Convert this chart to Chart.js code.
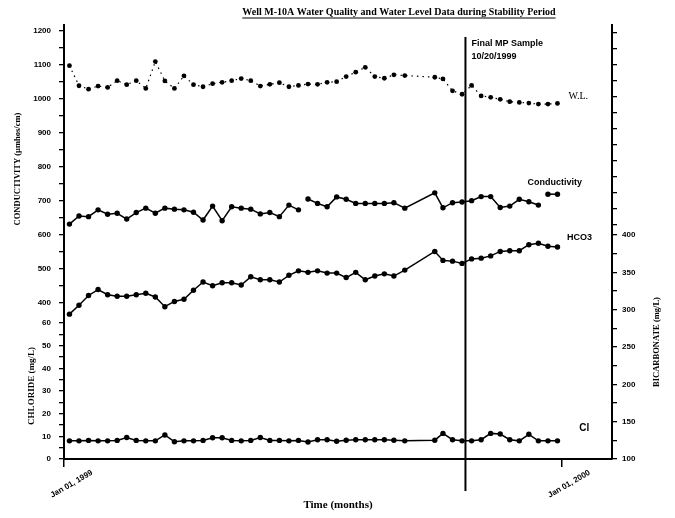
<!DOCTYPE html>
<html>
<head>
<meta charset="utf-8">
<script src="https://cdn.jsdelivr.net/npm/chart.js@4.4.1/dist/chart.umd.min.js"></script>
<style>
html,body{margin:0;padding:0;background:#fff;}
#wrap{width:675px;height:518px;}
</style>
</head>
<body>
<div id="wrap"><canvas id="c" width="675" height="518"></canvas></div>
<script>
// ---------------- data (days since Jan 01, 1999) ----------------
const sampleDays = [4,11,18,25,32,39,46,53,60,67,74,81,88,95,102,109,116,123,130,137,144,151,158,165,172,179,186,193,200,207,214,221,228,235,242,250,272,278,285,292,299,306,313,320,327,334,341,348,355,362];
const conductivity = [632,656,654,674,661,664,647,666,679,664,679,676,674,667,644,685,642,683,679,676,662,666,654,688,674,706,693,683,712,705,693,693,693,693,695,679,724,680,695,697,701,713,713,681,685,705,698,688,720,720];
const waterLevel = [1098,1039,1029,1038,1034,1054,1042,1054,1031,1110,1053,1031,1068,1042,1036,1045,1049,1054,1060,1054,1038,1043,1048,1036,1040,1044,1043,1049,1051,1066,1079,1093,1066,1061,1071,1069,1064,1059,1024,1014,1040,1009,1005,999,992,990,988,985,985,987];
const bicarbonate = [294,306,319,327,320,318,318,320,322,317,304,311,314,326,337,332,336,336,333,344,340,340,337,346,352,350,352,349,349,343,350,340,345,348,345,353,378,366,365,362,368,369,372,378,379,379,387,389,385,384];
const chloride = [8.0,8.0,8.2,8.0,8.0,8.2,9.5,8.2,8.0,8.0,10.6,7.6,8.0,8.0,8.2,9.4,9.4,8.2,8.0,8.2,9.5,8.2,8.2,8.0,8.2,7.5,8.5,8.5,7.8,8.3,8.5,8.5,8.5,8.5,8.3,8.0,8.3,11.3,8.5,8.0,8.0,8.5,11.3,11.0,8.5,8.0,10.9,8.0,8.0,8.0];
const conductivityBreaks = [24, 47];          // segments not joined in the original
const xTickDays = [0, 365];
const xTickLabels = ['Jan 01, 1999', 'Jan 01, 2000'];
const finalSampleDay = 294.5;
const finalSampleText = ['Final MP Sample', '10/20/1999'];
const chartTitle = 'Well M-10A Water Quality and Water Level Data during Stability Period';
const bicarbonateTitle = 'BICARBONATE (mg/L)';

// ---------------- styles ----------------
const sans = '"Liberation Sans", Arial, sans-serif';
const serif = '"Liberation Serif", "Times New Roman", serif';
const tickFont = {family: sans, size: 8, weight: 'bold'};
const toXY = arr => sampleDays.map((d, i) => ({x: d, y: arr[i]}));

const seriesLabels = [
  {text: 'W.L.', day: 370, value: 1009, axis: 'yC', font: '10px ' + serif},
  {text: 'Conductivity', day: 340, value: 753, axis: 'yC', font: 'bold 9px ' + sans},
  {text: 'HCO3', day: 369, value: 397, axis: 'yH', font: 'bold 9px ' + sans},
  {text: 'Cl', day: 378, value: 13.7, axis: 'yCl', font: 'bold 10px ' + sans}
];

const annotate = {
  id: 'annotate',
  afterDatasetsDraw(chart) {
    const {ctx, chartArea, scales} = chart;
    const px = scales.x.getPixelForValue(finalSampleDay);
    ctx.save();
    ctx.strokeStyle = '#000';
    ctx.lineWidth = 2;
    ctx.beginPath();
    ctx.moveTo(px, chartArea.top + 12);
    ctx.lineTo(px, chartArea.bottom + 32);
    ctx.stroke();
    ctx.fillStyle = '#000';
    ctx.textBaseline = 'middle';
    ctx.textAlign = 'left';
    ctx.font = 'bold 9px ' + sans;
    ctx.fillText(finalSampleText[0], px + 6, chartArea.top + 19);
    ctx.fillText(finalSampleText[1], px + 6, chartArea.top + 32);
    seriesLabels.forEach(l => {
      ctx.font = l.font;
      ctx.fillText(l.text, scales.x.getPixelForValue(l.day), scales[l.axis].getPixelForValue(l.value));
    });
    // right axis title, reading bottom-to-top as in the original
    const yH = scales.yH;
    ctx.save();
    ctx.translate(yH.right - 18, (yH.top + yH.bottom) / 2);
    ctx.rotate(-Math.PI / 2);
    ctx.textAlign = 'center';
    ctx.font = 'bold 8.5px ' + serif;
    ctx.fillText(bicarbonateTitle, 0, 0);
    ctx.restore();
    // title with underline
    ctx.font = 'bold 10px ' + serif;
    ctx.textAlign = 'center';
    const cx = chart.width * 0.591, cy = 12;
    ctx.fillText(chartTitle, cx, cy);
    const w = ctx.measureText(chartTitle).width;
    ctx.lineWidth = 1.2;
    ctx.beginPath();
    ctx.moveTo(cx - w / 2, cy + 6);
    ctx.lineTo(cx + w / 2, cy + 6);
    ctx.stroke();
    ctx.restore();
  }
};

const axisGrid = {drawOnChartArea: false, drawTicks: true, tickLength: 5, color: '#000', lineWidth: 1.3};
const axisBorder = {display: true, color: '#000', width: 2};

new Chart(document.getElementById('c'), {
  type: 'line',
  data: {
    datasets: [
      {label: 'W.L.', data: toXY(waterLevel), yAxisID: 'yC', borderColor: '#000', backgroundColor: '#000',
       borderWidth: 1.2, borderDash: [1.5, 4], pointRadius: 2.4, pointBorderWidth: 0, tension: 0},
      {label: 'Conductivity', data: toXY(conductivity), yAxisID: 'yC', borderColor: '#000', backgroundColor: '#000',
       borderWidth: 1.5, pointRadius: 2.7, pointBorderWidth: 0, tension: 0,
       segment: {borderColor: c => conductivityBreaks.includes(c.p0DataIndex) ? 'rgba(0,0,0,0)' : '#000'}},
      {label: 'HCO3', data: toXY(bicarbonate), yAxisID: 'yH', borderColor: '#000', backgroundColor: '#000',
       borderWidth: 1.5, pointRadius: 2.7, pointBorderWidth: 0, tension: 0},
      {label: 'Cl', data: toXY(chloride), yAxisID: 'yCl', borderColor: '#000', backgroundColor: '#000',
       borderWidth: 1.5, pointRadius: 2.7, pointBorderWidth: 0, tension: 0}
    ]
  },
  options: {
    responsive: false,
    animation: false,
    devicePixelRatio: 1,
    layout: {padding: {top: 25, left: 0, right: 0, bottom: 0}},
    plugins: {legend: {display: false}, tooltip: {enabled: false}, title: {display: false}},
    scales: {
      x: {
        type: 'linear', position: 'bottom', min: 0, max: 402,
        afterBuildTicks: s => { s.ticks = xTickDays.map(v => ({value: v})); },
        afterFit: s => { s.height = 59; },
        ticks: {autoSkip: false, minRotation: 30, maxRotation: 30, labelOffset: 28, padding: 1,
                font: {family: sans, size: 8, weight: 'bold'}, color: '#000',
                callback: v => xTickLabels[xTickDays.indexOf(v)]},
        grid: {drawOnChartArea: false, drawTicks: true, tickLength: 8, color: '#000', lineWidth: 1.5},
        border: axisBorder,
        title: {display: true, text: 'Time (months)', color: '#000',
                font: {family: serif, size: 11, weight: 'bold'}, padding: {top: 0, bottom: 6}}
      },
      yC: {
        type: 'linear', axis: 'y', position: 'left', stack: 'left', stackWeight: 288, weight: 2,
        min: 370.6, max: 1217.6,
        afterFit: s => { s.width = 64; },
        ticks: {stepSize: 50, includeBounds: false, autoSkip: false, padding: 8, font: tickFont, color: '#000',
                callback: v => (v % 100 === 0 ? v : '')},
        grid: axisGrid, border: axisBorder,
        title: {display: true, text: 'CONDUCTIVITY (µmhos/cm)', color: '#000',
                font: {family: serif, size: 8.5, weight: 'bold'}, padding: {top: 13, bottom: 0}}
      },
      yCl: {
        type: 'linear', axis: 'y', position: 'left', stack: 'left', stackWeight: 146, weight: 1,
        min: 0, max: 64.4,
        afterFit: s => { s.width = 64; },
        ticks: {stepSize: 5, includeBounds: false, autoSkip: false, padding: 8, font: tickFont, color: '#000',
                callback: v => (v % 10 === 0 ? v : '')},
        grid: axisGrid, border: axisBorder,
        title: {display: true, text: 'CHLORIDE (mg/L)', color: '#000',
                font: {family: serif, size: 9, weight: 'bold'}, padding: {top: 26, bottom: 0}}
      },
      yWL: {
        type: 'linear', axis: 'y', position: 'right', stack: 'right', stackWeight: 200, weight: 1,
        min: 0, max: 200,
        afterFit: s => { s.width = 63; },
        ticks: {stepSize: 16, includeBounds: false, autoSkip: false, padding: 5, font: tickFont, color: '#000', callback: () => ''},
        grid: axisGrid, border: axisBorder
      },
      yH: {
        type: 'linear', axis: 'y', position: 'right', stack: 'right', stackWeight: 234, weight: 2,
        min: 100, max: 413.4,
        afterFit: s => { s.width = 63; },
        ticks: {stepSize: 25, includeBounds: false, autoSkip: false, padding: 5, font: tickFont, color: '#000',
                callback: v => (v % 50 === 0 ? v : '')},
        grid: axisGrid, border: axisBorder
      }
    }
  },
  plugins: [annotate]
});
</script>
</body>
</html>
